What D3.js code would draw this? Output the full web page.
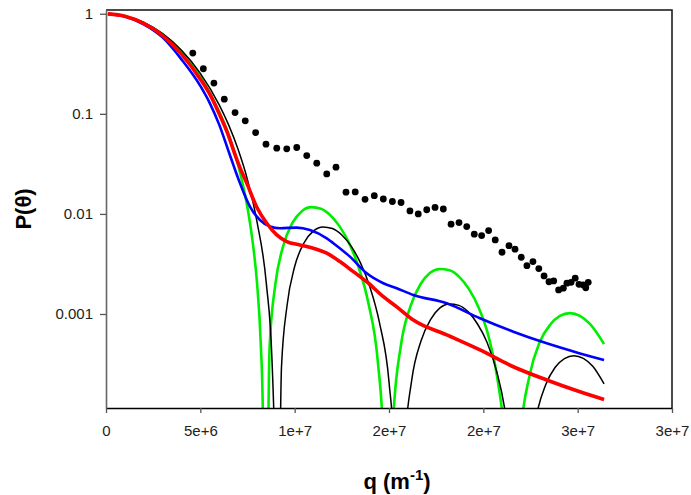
<!DOCTYPE html>
<html>
<head>
<meta charset="utf-8">
<script src="https://cdn.jsdelivr.net/npm/d3@7"></script>
<style>
  body { margin: 0; background: #fff; }
  text { font-family: "Liberation Sans", Arial, sans-serif; }
</style>
</head>
<body>
<div id="chart"></div>
<script>
// axis ticks
var xTicks = [0, 5e6, 1e7, 1.5e7, 2e7, 2.5e7, 3e7];
var xTickLabels = ["0", "5e+6", "1e+7", "2e+7", "2e+7", "3e+7", "3e+7"];
var yTicks = [1, 0.1, 0.01, 0.001];
var yTickLabels = ["1", "0.1", "0.01", "0.001"];

// [q (m^-1), P(theta)]
var blackCurve = [
  [0.1e6, 0.998], [1e6, 0.952], [2e6, 0.818], [3e6, 0.632], [4e6, 0.431],
  [5e6, 0.254], [6e6, 0.123], [6.5e6, 0.0775], [7e6, 0.0442], [7.5e6, 0.0219],
  [8e6, 0.0084], [8.5e6, 0.002], [8.8e6, 0.00034], [9.0e6, 9e-6], [9.04e6, 1e-7],
  [9.3e6, 0.00029], [9.6e6, 0.00123], [10e6, 0.00298], [10.5e6, 0.00515],
  [11e6, 0.00676], [11.5e6, 0.00741], [12e6, 0.00714], [12.5e6, 0.00615],
  [13e6, 0.00473], [13.5e6, 0.0032], [14e6, 0.00183], [14.5e6, 0.00081],
  [15e6, 0.00021], [15.3e6, 3.2e-5], [15.54e6, 1e-7], [15.8e6, 3.9e-5],
  [16.2e6, 0.000216], [16.7e6, 0.00054], [17.2e6, 0.00088], [17.7e6, 0.00115],
  [18.2e6, 0.00126], [18.7e6, 0.00122], [19.2e6, 0.00105], [19.7e6, 0.00079],
  [20.2e6, 0.00052], [20.7e6, 0.00027], [21.2e6, 9.2e-5], [21.6e6, 1.6e-5],
  [21.94e6, 1e-7], [22.3e6, 1.9e-5], [22.8e6, 9.3e-5], [23.3e6, 0.000195],
  [23.8e6, 0.000292], [24.3e6, 0.000359], [24.8e6, 0.000383], [25.3e6, 0.00036],
  [25.8e6, 0.0003], [26.4e6, 0.0002]
];

var greenCurve = [
  [0.1e6, 0.998], [1e6, 0.95], [2e6, 0.812], [3e6, 0.622], [4e6, 0.42],
  [5e6, 0.236], [6e6, 0.105], [6.5e6, 0.062], [7e6, 0.031], [7.5e6, 0.0115],
  [7.8e6, 0.0048], [8.0e6, 0.0021], [8.2e6, 0.00052], [8.31e6, 0.000115],
  [8.41e6, 1e-7], [8.67e6, 0.000457], [8.97e6, 0.00194], [9.38e6, 0.0047],
  [9.88e6, 0.00812], [10.38e6, 0.01066], [10.88e6, 0.01168], [11.39e6, 0.01126],
  [11.89e6, 0.0097], [12.39e6, 0.00746], [12.9e6, 0.00505], [13.4e6, 0.00289],
  [13.91e6, 0.00128], [14.41e6, 0.00033], [14.71e6, 5e-5], [14.95e6, 1e-7],
  [15.22e6, 8.7e-5], [15.63e6, 0.000484], [16.15e6, 0.00121], [16.66e6, 0.00197],
  [17.18e6, 0.00258], [17.69e6, 0.00282], [18.21e6, 0.00273], [18.72e6, 0.00235],
  [19.24e6, 0.00177], [19.75e6, 0.00116], [20.27e6, 0.000605], [20.78e6, 0.000206],
  [21.2e6, 3.6e-5], [21.55e6, 1e-7], [21.93e6, 5.1e-5], [22.46e6, 0.000247],
  [22.98e6, 0.000519], [23.53e6, 0.000777], [24.06e6, 0.000955], [24.59e6, 0.00102],
  [25.12e6, 0.000958], [25.65e6, 0.000795], [26.4e6, 0.0005]
];

var blueCurve = [
  [0.1e6, 0.998], [1e6, 0.94], [2e6, 0.785], [3e6, 0.58], [4e6, 0.35],
  [5e6, 0.19], [5.5e6, 0.128], [6e6, 0.078], [6.47e6, 0.0437], [6.8e6, 0.029],
  [7.1e6, 0.0203], [7.63e6, 0.0118], [8.16e6, 0.0087], [8.69e6, 0.0075],
  [9.22e6, 0.0072], [10.11e6, 0.0073], [10.81e6, 0.0069], [11.7e6, 0.0057],
  [12.05e6, 0.0051], [12.93e6, 0.00374], [13.82e6, 0.00255], [14.7e6, 0.00203],
  [15.41e6, 0.00181], [16.29e6, 0.00155], [18.06e6, 0.00128], [19.82e6, 0.000906],
  [21.59e6, 0.000665], [23.36e6, 0.000509], [25.12e6, 0.000404], [26.4e6, 0.000347]
];

var redCurve = [
  [0.1e6, 0.998], [1e6, 0.946], [2e6, 0.8], [3e6, 0.605], [4e6, 0.395],
  [5e6, 0.222], [5.5e6, 0.157], [6e6, 0.1], [6.5e6, 0.06], [6.75e6, 0.0437],
  [7.1e6, 0.029], [7.46e6, 0.0203], [7.98e6, 0.0118], [8.52e6, 0.00807],
  [9.05e6, 0.00617], [9.58e6, 0.00529], [10.28e6, 0.0049], [10.99e6, 0.00454],
  [11.7e6, 0.00405], [12.4e6, 0.00334], [13.11e6, 0.00265], [13.82e6, 0.0021],
  [14.7e6, 0.00149], [15.41e6, 0.00118], [16.29e6, 0.00087], [18.06e6, 0.000617],
  [19.82e6, 0.000437], [21.59e6, 0.000297], [23.36e6, 0.000219], [25.12e6, 0.000167],
  [26.4e6, 0.00014]
];

// measured points (black dots)
var dotsQ = [4.6, 5.16, 5.72, 6.27, 6.84, 7.38, 7.93, 8.48, 9.05, 9.58, 10.11, 10.64,
  11.17, 11.7, 12.19, 12.72, 13.21, 13.73, 14.22, 14.7, 15.18, 15.64, 16.11, 16.55,
  17.0, 17.44, 17.88, 18.29, 18.71, 19.12, 19.52, 19.91, 20.28, 20.63, 20.99, 21.36,
  21.68, 22.01, 22.31, 22.63, 22.94, 23.22, 23.48, 23.73, 23.99, 24.24, 24.43, 24.65,
  24.87, 25.07, 25.3, 25.43, 25.56];
var dotsP = [0.405, 0.282, 0.203, 0.14, 0.103, 0.0851, 0.065, 0.0498, 0.0454, 0.0447,
  0.0461, 0.0383, 0.0321, 0.0251, 0.0293, 0.0165, 0.0166, 0.014, 0.0152, 0.0141, 0.0133,
  0.013, 0.0107, 0.01, 0.011, 0.0116, 0.0112, 0.00789, 0.00819, 0.00747, 0.00627, 0.00607,
  0.00681, 0.0055, 0.00414, 0.00482, 0.00444, 0.00369, 0.00304, 0.00334, 0.00284, 0.0024,
  0.0021, 0.00214, 0.00174, 0.00181, 0.00203, 0.00207, 0.00228, 0.00198, 0.00195, 0.00183,
  0.00207];

var width = 691,
  height = 495;
var plot = { left: 106, right: 672, top: 10, bottom: 408 };

var svg = d3
  .select("#chart")
  .append("svg")
  .attr("width", width)
  .attr("height", height);

var x = d3.scaleLinear().domain([0, 3e7]).range([plot.left, plot.right]);
var y = d3.scaleLog().domain([1.15e-4, 1.09]).range([plot.bottom, plot.top]);

svg
  .append("clipPath")
  .attr("id", "clip")
  .append("rect")
  .attr("x", plot.left)
  .attr("y", plot.top)
  .attr("width", plot.right - plot.left)
  .attr("height", plot.bottom - plot.top);

var line = d3
  .line()
  .x(function (d) { return x(d[0]); })
  .y(function (d) { return y(d[1]); })
  .curve(d3.curveMonotoneX);

var series = [
  { data: greenCurve, color: "#00ee00", w: 2.6 },
  { data: blackCurve, color: "#000000", w: 1.5 },
  { data: blueCurve, color: "#0000ff", w: 2.6 },
  { data: redCurve, color: "#ff0000", w: 3.6 }
];

var curves = svg.append("g").attr("clip-path", "url(#clip)");
series.forEach(function (s) {
  curves
    .append("path")
    .datum(s.data)
    .attr("fill", "none")
    .attr("stroke", s.color)
    .attr("stroke-width", s.w)
    .attr("stroke-linejoin", "round")
    .attr("d", line);
});

curves
  .selectAll("circle")
  .data(dotsQ)
  .enter()
  .append("circle")
  .attr("cx", function (d) { return x(d * 1e6); })
  .attr("cy", function (d, i) { return y(dotsP[i]); })
  .attr("r", 3.4)
  .attr("fill", "#000");

// frame (top and right)
svg
  .append("path")
  .attr("d", "M" + plot.left + "," + plot.top + "H" + plot.right + "V" + plot.bottom)
  .attr("fill", "none")
  .attr("stroke", "#111")
  .attr("stroke-width", 1.5);

// x axis
var xAxis = svg
  .append("g")
  .attr("transform", "translate(0," + plot.bottom + ")")
  .call(
    d3.axisBottom(x)
      .tickValues(xTicks)
      .tickSize(5)
      .tickSizeOuter(0)
      .tickFormat(function (d, i) { return xTickLabels[i]; })
  );
xAxis.select(".domain").attr("stroke", "#000").attr("stroke-width", 1.5);
xAxis.selectAll(".tick line").attr("stroke", "#555").attr("stroke-width", 1.3);
xAxis
  .selectAll(".tick text")
  .attr("y", 17)
  .attr("font-size", "15px")
  .attr("fill", "#222");

// y axis
var yAxis = svg
  .append("g")
  .attr("transform", "translate(" + plot.left + ",0)")
  .call(
    d3.axisLeft(y)
      .tickValues(yTicks)
      .tickSize(6)
      .tickSizeOuter(0)
      .tickFormat(function (d, i) { return yTickLabels[i]; })
  );
yAxis.select(".domain").attr("stroke", "#666").attr("stroke-width", 1.6);
yAxis.selectAll(".tick line").attr("stroke", "#555").attr("stroke-width", 1.3);
yAxis
  .selectAll(".tick text")
  .attr("x", -13)
  .attr("font-size", "15px")
  .attr("fill", "#222");

// axis titles
svg
  .append("text")
  .attr("transform", "translate(31," + (plot.top + plot.bottom) / 2 + ") rotate(-90)")
  .attr("text-anchor", "middle")
  .attr("font-size", "22px")
  .attr("font-weight", "bold")
  .text("P(θ)");

var xTitle = svg
  .append("text")
  .attr("x", (plot.left + plot.right) / 2 + 8)
  .attr("y", 489)
  .attr("text-anchor", "middle")
  .attr("font-size", "22px")
  .attr("font-weight", "bold");
xTitle.append("tspan").text("q (m");
xTitle.append("tspan").attr("font-size", "15px").attr("dy", -9).text("-1");
xTitle.append("tspan").attr("dy", 9).text(")");
</script>
</body>
</html>
